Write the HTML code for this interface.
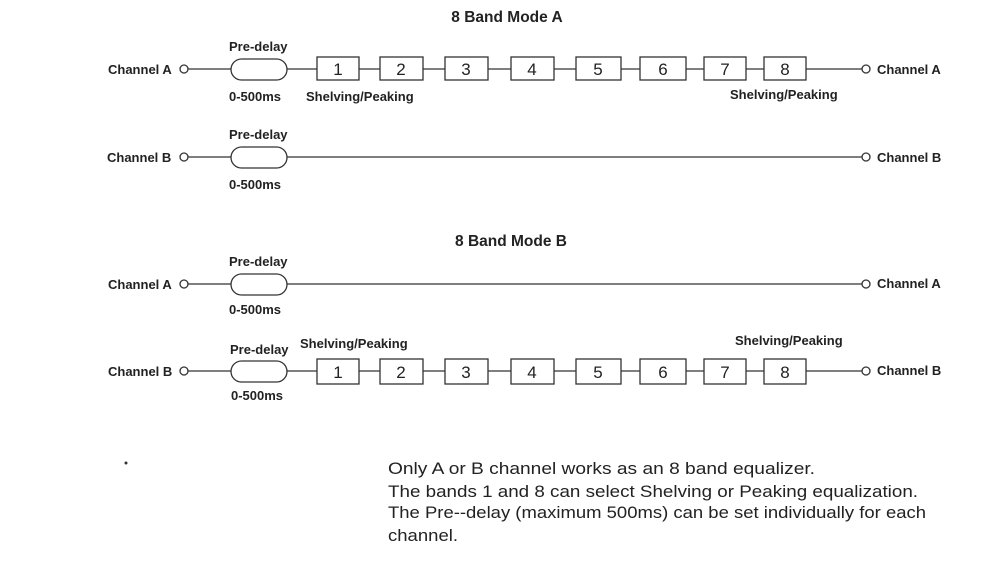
<!DOCTYPE html>
<html><head><style>
html,body{margin:0;padding:0;background:#fff;}
svg{display:block;}
text{font-family:"Liberation Sans",sans-serif;fill:#222;}
.l{font-size:13px;font-weight:bold;}
.n{font-size:17px;}
.t{font-size:15.5px;font-weight:bold;}
.p{font-size:17px;}
</style></head><body>
<svg width="1000" height="570" viewBox="0 0 1000 570" xmlns="http://www.w3.org/2000/svg">
<g stroke="#333" stroke-width="1.3" fill="none">
<line x1="188" y1="69" x2="231" y2="69"/><rect x="231" y="59" width="56" height="21" rx="10.5"/>
<line x1="287" y1="69" x2="862" y2="69"/>
<circle cx="184" cy="69" r="4" fill="#fff"/><circle cx="866" cy="69" r="4" fill="#fff"/>
<line x1="188" y1="157" x2="231" y2="157"/><rect x="231" y="147" width="56" height="21" rx="10.5"/>
<line x1="287" y1="157" x2="862" y2="157"/>
<circle cx="184" cy="157" r="4" fill="#fff"/><circle cx="866" cy="157" r="4" fill="#fff"/>
<line x1="188" y1="284" x2="231" y2="284"/><rect x="231" y="274" width="56" height="21" rx="10.5"/>
<line x1="287" y1="284" x2="862" y2="284"/>
<circle cx="184" cy="284" r="4" fill="#fff"/><circle cx="866" cy="284" r="4" fill="#fff"/>
<line x1="188" y1="371" x2="231" y2="371"/><rect x="231" y="361" width="56" height="21" rx="10.5"/>
<line x1="287" y1="371" x2="862" y2="371"/>
<circle cx="184" cy="371" r="4" fill="#fff"/><circle cx="866" cy="371" r="4" fill="#fff"/>
</g>
<g stroke="#333" stroke-width="1.3" fill="#fff">
<rect x="317" y="57" width="42" height="23"/><rect x="380" y="57" width="43" height="23"/>
<rect x="445" y="57" width="43" height="23"/><rect x="511" y="57" width="43" height="23"/>
<rect x="576" y="57" width="45" height="23"/><rect x="640" y="57" width="46" height="23"/>
<rect x="704" y="57" width="42" height="23"/><rect x="764" y="57" width="42" height="23"/>
<rect x="317" y="359" width="42" height="25"/><rect x="380" y="359" width="43" height="25"/>
<rect x="445" y="359" width="43" height="25"/><rect x="511" y="359" width="43" height="25"/>
<rect x="576" y="359" width="45" height="25"/><rect x="640" y="359" width="46" height="25"/>
<rect x="704" y="359" width="42" height="25"/><rect x="764" y="359" width="42" height="25"/>
</g>
<g class="n" text-anchor="middle">
<text x="338" y="75">1</text><text x="401" y="75">2</text><text x="466" y="75">3</text><text x="532" y="75">4</text>
<text x="598" y="75">5</text><text x="663" y="75">6</text><text x="725" y="75">7</text><text x="785" y="75">8</text>
<text x="338" y="378">1</text><text x="401" y="378">2</text><text x="466" y="378">3</text><text x="532" y="378">4</text>
<text x="598" y="378">5</text><text x="663" y="378">6</text><text x="725" y="378">7</text><text x="785" y="378">8</text>
</g>
<text class="t" x="507" y="22" text-anchor="middle">8 Band Mode A</text>
<text class="t" x="511" y="246" text-anchor="middle">8 Band Mode B</text>
<g class="l">
<text x="108" y="74">Channel A</text><text x="877" y="74">Channel A</text>
<text x="107" y="162">Channel B</text><text x="877" y="162">Channel B</text>
<text x="108" y="289">Channel A</text><text x="877" y="288">Channel A</text>
<text x="108" y="376">Channel B</text><text x="877" y="375">Channel B</text>
<text x="229" y="51">Pre-delay</text><text x="229" y="101">0-500ms</text>
<text x="229" y="139">Pre-delay</text><text x="229" y="189">0-500ms</text>
<text x="229" y="266">Pre-delay</text><text x="229" y="314">0-500ms</text>
<text x="230" y="354">Pre-delay</text><text x="231" y="400">0-500ms</text>
<text x="306" y="101">Shelving/Peaking</text><text x="730" y="99">Shelving/Peaking</text>
<text x="300" y="348">Shelving/Peaking</text><text x="735" y="345">Shelving/Peaking</text>
</g>
<g class="p">
<text x="388" y="474" textLength="427" lengthAdjust="spacingAndGlyphs">Only A or B channel works as an 8 band equalizer.</text>
<text x="388" y="497" textLength="530" lengthAdjust="spacingAndGlyphs">The bands 1 and 8 can select Shelving or Peaking equalization.</text>
<text x="388" y="518" textLength="538" lengthAdjust="spacingAndGlyphs">The Pre--delay (maximum 500ms) can be set individually for each</text>
<text x="388" y="541" textLength="70" lengthAdjust="spacingAndGlyphs">channel.</text>
</g>
<circle cx="126" cy="463" r="1.5" fill="#333"/>
</svg>
</body></html>
